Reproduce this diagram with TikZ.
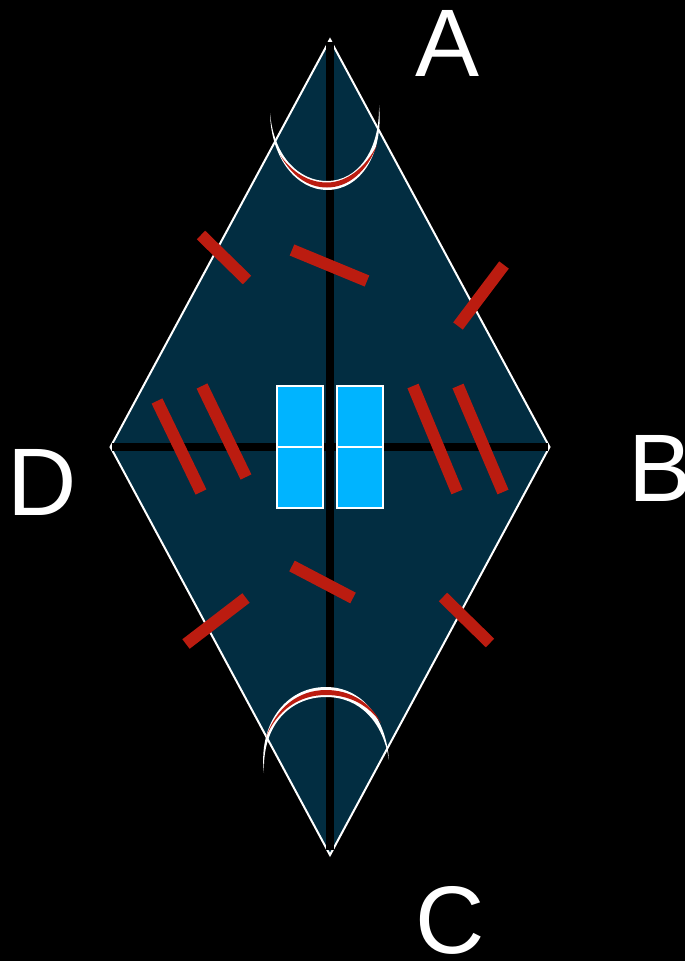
\documentclass[tikz,border=0pt]{standalone}
\usepackage{fontspec}
\setmainfont{Liberation Sans}
\definecolor{kite}{HTML}{022D41}
\definecolor{barred}{HTML}{BB1C10}
\definecolor{tile}{HTML}{00B4FF}
\tikzset{
  x=1pt,y=-1pt,
  lab/.style={text=white,font=\fontsize{96}{96}\selectfont,inner sep=0pt,outer sep=0pt},
  kiteshape/.style={fill=kite,draw=white,line width=2pt,miter limit=20},
  axis/.style={draw=black,line width=8pt},
  tally/.style={draw=barred,line width=12pt},
  tilebox/.style={fill=tile,draw=white,line width=2pt},
  tileline/.style={draw=white,line width=2pt},
}
\begin{document}
\begin{tikzpicture}
\useasboundingbox (0,0) rectangle (685,961);
\fill[black] (0,0) rectangle (685,961);
\path[kiteshape] (330,39.5) -- (549.5,447) -- (330,855) -- (110.5,447) -- cycle;
\draw[axis] (329.5,41.5) -- (329.5,850);
\draw[axis] (112,447) -- (548,447);
% top arc
\fill[white] (270,113) .. controls (271,160) and (298,190) .. (327,190)
  .. controls (360,190) and (384,155) .. (379,105)
  .. controls (380,150) and (358,181) .. (327,181)
  .. controls (300,181) and (274,158) .. cycle;
\fill[barred] (280,155) .. controls (292,176) and (308,187.5) .. (327,187.5)
  .. controls (348,187.5) and (367,172) .. (377,145)
  .. controls (366,167) and (347,182.5) .. (327,182.5)
  .. controls (308,182.5) and (292,172) .. cycle;
% bottom arc
\fill[white] (264,773) .. controls (258,725) and (285,687) .. (326,687)
  .. controls (362,687) and (386,718) .. (389,760)
  .. controls (383,722) and (360,697) .. (326,697)
  .. controls (290,697) and (262,725) .. cycle;
\fill[barred] (266,737) .. controls (276,708) and (298,690) .. (326,690)
  .. controls (350,690) and (370,702) .. (381,723)
  .. controls (368,705) and (350,695) .. (326,695)
  .. controls (298,695) and (277,711) .. cycle;
% tiles
\path[tilebox] (276.5,386) rectangle (322.5,507.5);
\path[tilebox] (337,386) rectangle (382.5,507.5);
\draw[tileline] (276.5,447) -- (322.5,447);
\draw[tileline] (337,447) -- (382.5,447);
% tally marks
\draw[tally] (201,235) -- (247,280);
\draw[tally] (292,250) -- (367,281);
\draw[tally] (504,265) -- (458,326);
\draw[tally] (157,401) -- (201,492);
\draw[tally] (202,386) -- (246,477);
\draw[tally] (413,386) -- (457,492);
\draw[tally] (458,386) -- (503,492);
\draw[tally] (292,566) -- (353,598);
\draw[tally] (246,598) -- (186,644);
\draw[tally] (443,597) -- (490,643);
% labels
\node[lab] (la) at (448,43) {A};
\node[lab] (lb) at (661,468) {B};
\node[lab] (lc) at (450,920) {C};
\node[lab] (ld) at (42,482) {D};
\end{tikzpicture}
\end{document}
